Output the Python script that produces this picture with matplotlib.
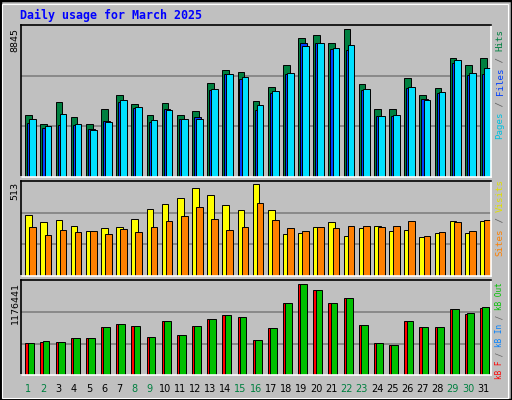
import matplotlib
matplotlib.use("Agg")
import matplotlib.pyplot as plt
from matplotlib.patches import Rectangle
import numpy as np

days = list(range(1, 32))
weekend = [1, 2, 8, 9, 15, 16, 22, 23, 29, 30]
hits = [3684, 3144, 4464, 3564, 3144, 4044, 4884, 4344, 3684, 4404, 3684, 3924, 5604, 6384, 6282, 4524,
        5364, 6684, 8304, 8484, 8004, 8845, 5544, 4044, 4044, 5904, 4884, 5304, 7104, 6684, 7104]
files = [3204, 2904, 3084, 3084, 2844, 3324, 4464, 4104, 3264, 4044, 3444, 3564, 5184, 6144, 5844, 3984,
         5004, 6144, 8004, 8004, 7644, 7584, 5184, 3624, 3624, 5304, 4644, 5004, 6804, 6084, 6144]
pages = [3444, 3024, 3744, 3144, 2784, 3264, 4584, 4164, 3384, 3984, 3444, 3444, 5244, 6144, 5964, 4284,
         5124, 6204, 7824, 8004, 7704, 7884, 5244, 3624, 3684, 5364, 4584, 5064, 6984, 6204, 6504]
visits = [340, 301, 312, 279, 251, 268, 273, 318, 374, 402, 435, 491, 452, 396, 368, 513,
          368, 234, 240, 273, 301, 223, 268, 279, 251, 257, 218, 240, 307, 240, 307]
sites = [273, 229, 257, 245, 251, 234, 262, 245, 273, 307, 335, 385, 318, 257, 273, 407,
         312, 268, 251, 273, 268, 279, 279, 273, 279, 307, 223, 245, 301, 251, 312]
kb_out = [413700, 439500, 426600, 478300, 478300, 620500, 659300, 633400, 491200, 698100, 517100, 633400,
          723900, 775600, 749800, 452400, 607600, 930700, 1176441, 1098800, 930700, 995400, 646400, 413700,
          387800, 698100, 620500, 620500, 853200, 801500, 879000]
kb_f = [413700, 426600, 426600, 478300, 478300, 620500, 659300, 633400, 491200, 698100, 517100, 633400,
        723900, 775600, 749800, 452400, 607600, 930700, 1176441, 1098800, 930700, 995400, 646400, 413700,
        387800, 698100, 620500, 620500, 853200, 788500, 866100]

BG = "#c0c0c0"
W, H = 512, 400
fig = plt.figure(figsize=(W / 100, H / 100), dpi=100, facecolor=BG)

def px_axes(x0, y0, x1, y1):
    return fig.add_axes([x0 / W, 1 - y1 / H, (x1 - x0) / W, (y1 - y0) / H])

def style(ax, ytop):
    ax.set_facecolor(BG)
    ax.set_xlim(0, 31)
    ax.set_ylim(0, ytop)
    ax.set_xticks([]); ax.set_yticks([])
    for y in (ytop / 3, 2 * ytop / 3):
        ax.axhline(y, color="#808080", lw=1.2, zorder=0)
    ax.spines["left"].set_color("black"); ax.spines["top"].set_color("black")
    ax.spines["right"].set_color("white"); ax.spines["bottom"].set_color("white")
    for s in ax.spines.values():
        s.set_linewidth(1.2)

x = np.arange(31)
bw = 0.44
kw = dict(width=bw, align="edge", edgecolor="black", linewidth=0.7, zorder=2)

ax1 = px_axes(20.7, 25, 490.7, 176.7)
style(ax1, 9103)
ax1.bar(x + 0.30, hits, color="#008040", **kw)
ax1.bar(x + 0.43, files, color="#0040ff", **kw)
ax1.bar(x + 0.57, pages, color="#00e0ff", **kw)

ax2 = px_axes(20.7, 180.7, 490.7, 276.3)
style(ax2, 533)
ax2.bar(x + 0.30, visits, color="#ffff00", **kw)
ax2.bar(x + 0.57, sites, color="#ff8000", **kw)

ax3 = px_axes(20.7, 280.3, 490.7, 375.3)
style(ax3, 1228152)
ax3.bar(x + 0.30, kb_f, color="#ff0000", **kw)
ax3.bar(x + 0.45, kb_out, color="#00c000", **kw)

fig.patches.append(Rectangle((0, 0), 1, 1, transform=fig.transFigure, fill=False,
                             edgecolor="black", lw=2.5))
fig.patches.append(Rectangle((2 / W, 2 / H), 1 - 6 / W, 1 - 6 / H, transform=fig.transFigure,
                             fill=False, edgecolor="white", lw=0.8))

mono = "DejaVu Sans Mono"
fig.text(20 / W, 1 - 15.5 / H, "Daily usage for March 2025", color="#0000ff", family=mono,
         fontweight="bold", fontsize=8.4, va="center", ha="left")

for label, ytop in (("8845", 28), ("513", 182), ("1176441", 282)):
    fig.text(15 / W, 1 - ytop / H, label, rotation=90, ha="center", va="top", fontsize=6.8)

for d in days:
    fig.text((20.7 + (d - 0.5) * 470 / 31) / W, 1 - 389 / H, str(d), ha="center", va="center",
             fontsize=7, color="#008040" if d in weekend else "black")

fig.canvas.draw()
renderer = fig.canvas.get_renderer()

def right_label(pieces, ytop, size):
    y = ytop
    for txt, col in reversed(pieces):
        t = fig.text(500 / W, 1 - y / H, txt, rotation=90, ha="center", va="top", color=col,
                     family=mono, fontsize=size)
        bb = t.get_window_extent(renderer)
        y += bb.height

SL = "#606060"
right_label([("Pages", "#00c0e0"), (" / ", SL), ("Files", "#0040ff"), (" / ", SL), ("Hits", "#008040")], 29, 6.6)
right_label([("Sites", "#ff8000"), (" / ", SL), ("Visits", "#e0e000")], 179, 6.6)
right_label([("kB F", "#ff0000"), (" / ", SL), ("kB In", "#0080ff"), (" / ", SL), ("kB Out", "#00c000")], 282, 5.5)

fig.savefig("out.png", dpi=100, facecolor=BG)
